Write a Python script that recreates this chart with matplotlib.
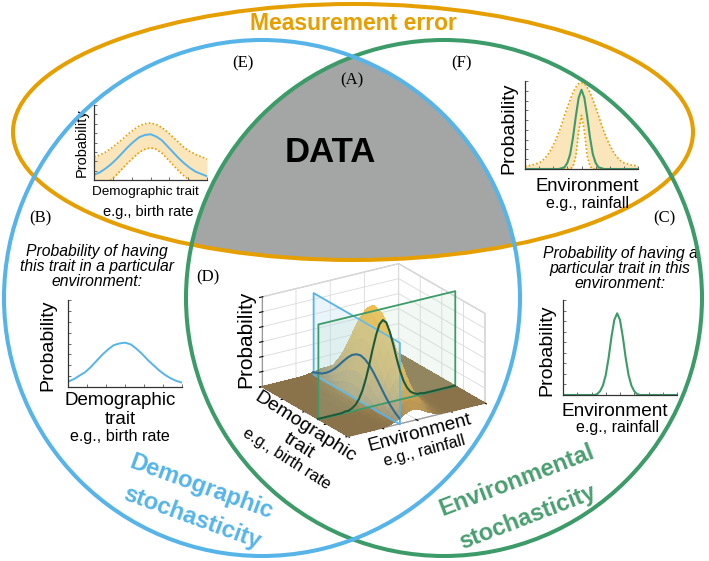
import numpy as np
import matplotlib
matplotlib.use('Agg')
import matplotlib.pyplot as plt
from matplotlib.patches import Circle, Ellipse, Polygon
from matplotlib.colors import LinearSegmentedColormap
from mpl_toolkits.mplot3d.art3d import Poly3DCollection
from mpl_toolkits.mplot3d import proj3d

# ---------------- data ----------------
trait_x = np.linspace(0, 1, 21)   # demographic-trait axis positions
env_x = np.linspace(0, 1, 41)     # environment axis positions

# (E) demographic trait with measurement error
e_mean = [0.07, 0.10, 0.15, 0.21, 0.28, 0.36, 0.44, 0.51, 0.57, 0.60, 0.61,
          0.58, 0.53, 0.45, 0.37, 0.29, 0.22, 0.16, 0.11, 0.08, 0.05]
e_upper = [0.31, 0.33, 0.37, 0.42, 0.48, 0.54, 0.61, 0.67, 0.72, 0.75, 0.76,
           0.74, 0.70, 0.64, 0.57, 0.50, 0.43, 0.38, 0.34, 0.31, 0.28]
e_lower = [-0.14, -0.11, -0.06, 0.00, 0.07, 0.15, 0.23, 0.30, 0.37, 0.41, 0.43,
           0.41, 0.36, 0.28, 0.20, 0.12, 0.05, -0.01, -0.06, -0.10, -0.13]

# (F) environment with measurement error
f_mean = [0]*12 + [0.00, 0.01, 0.02, 0.07, 0.17, 0.36, 0.60, 0.81, 0.90,
                   0.81, 0.60, 0.36, 0.17, 0.07, 0.02, 0.01, 0.00] + [0]*12
f_upper = [0.03, 0.04, 0.04, 0.05, 0.06, 0.07, 0.09, 0.12, 0.16, 0.21, 0.27,
           0.34, 0.42, 0.51, 0.61, 0.70, 0.79, 0.87, 0.93, 0.97, 0.98,
           0.97, 0.93, 0.87, 0.79, 0.70, 0.61, 0.51, 0.42, 0.34, 0.27,
           0.21, 0.16, 0.12, 0.09, 0.07, 0.06, 0.05, 0.04, 0.04, 0.03]
f_lower = [0]*17 + [0.03, 0.15, 0.43, 0.61, 0.43, 0.15, 0.03] + [0]*17

# (B) demographic stochasticity
b_curve = [0.06, 0.09, 0.13, 0.17, 0.23, 0.30, 0.37, 0.43, 0.48, 0.50, 0.51,
           0.49, 0.44, 0.38, 0.31, 0.25, 0.19, 0.14, 0.10, 0.07, 0.05]

# (C) environmental stochasticity
c_curve = [0]*12 + [0.01, 0.04, 0.10, 0.21, 0.39, 0.61, 0.79, 0.86,
                    0.79, 0.61, 0.39, 0.21, 0.10, 0.04, 0.01] + [0]*14

# (D) joint surface profiles
demo_profile = [0.04, 0.08, 0.12, 0.19, 0.28, 0.39, 0.52, 0.66, 0.79, 0.90, 0.97,
                1.00, 0.97, 0.90, 0.79, 0.66, 0.52, 0.39, 0.28, 0.19, 0.12]
env_profile = [0]*8 + [0.01, 0.01, 0.03, 0.06, 0.12, 0.21, 0.34, 0.50, 0.68, 0.84,
                       0.96, 1.00, 0.96, 0.84, 0.68, 0.50, 0.34, 0.21, 0.12, 0.06,
                       0.03, 0.01, 0.01] + [0]*10
surface_peak = 1.03
blue_slice = 15    # environment index of the blue plane
green_slice = 13   # demographic index of the green plane

# ---------------- style ----------------
W, H = 709, 561
ORANGE = '#E69F00'
BLUE = '#56B4E9'
GREEN = '#3C9B69'
GREEN_T = '#4A9E70'
FILL = '#FBE5BB'
plt.rcParams['font.family'] = ['Liberation Sans', 'DejaVu Sans']
plt.rcParams['grid.color'] = '#dadada'
plt.rcParams['grid.linewidth'] = 0.6

fig = plt.figure(figsize=(W/100, H/100), dpi=100)
ax = fig.add_axes([0, 0, 1, 1])
ax.set_xlim(0, W)
ax.set_ylim(H, 0)
ax.axis('off')

# gray DATA region = ellipse ∩ blue circle ∩ green circle
cb, cg, r = (262, 298), (444, 298), 258
a = np.arccos((353 - cb[0]) / r)
phi_b = np.linspace(-a, a, 200)
phi_g = np.linspace(np.pi - a, np.pi + a, 200)
lens = np.vstack([np.column_stack([cb[0] + r*np.cos(phi_b), cb[1] + r*np.sin(phi_b)]),
                  np.column_stack([cg[0] + r*np.cos(phi_g), cg[1] + r*np.sin(phi_g)])])
lens_patch = Polygon(lens, closed=True, transform=ax.transData)
gray = Ellipse((353, 132), 680, 256, facecolor='#A3A6A5', edgecolor='none', zorder=1)
ax.add_patch(gray)
gray.set_clip_path(lens_patch)

lw_c = 2.9
ax.add_patch(Ellipse((353, 132), 680, 256, facecolor='none', edgecolor=ORANGE, lw=lw_c, zorder=3))
ax.add_patch(Circle(cg, r, facecolor='none', edgecolor=GREEN, lw=lw_c, zorder=4))
ax.add_patch(Circle(cb, r, facecolor='none', edgecolor=BLUE, lw=lw_c, zorder=5))

# ---- main texts ----
ax.text(353, 23, 'Measurement error', color=ORANGE, fontsize=16.5, fontweight='bold',
        ha='center', va='center')
ax.text(330, 152, 'DATA', color='black', fontsize=25, fontweight='bold', ha='center', va='center')
serif = ['Liberation Serif', 'DejaVu Serif']
for lab, (x, y) in {'(A)': (352, 80), '(E)': (243, 63), '(F)': (462, 63), '(B)': (40, 218),
                    '(C)': (664, 218), '(D)': (208, 277)}.items():
    ax.text(x, y, lab, family=serif, fontsize=12, ha='center', va='center', zorder=6)

ax.text(97, 266, 'Probability of having\nthis trait in a particular\nenvironment:',
        style='italic', fontsize=11.3, ha='center', va='center', linespacing=1.0)
ax.text(620, 268, 'Probability of having a\nparticular trait in this\nenvironment:',
        style='italic', fontsize=11.3, ha='center', va='center', linespacing=1.0)

ax.text(201, 487, 'Demographic', color=BLUE, fontsize=17, fontweight='bold', rotation=-20,
        rotation_mode='anchor', ha='center', va='center')
ax.text(192, 518, 'stochasticity', color=BLUE, fontsize=17, fontweight='bold', rotation=-20,
        rotation_mode='anchor', ha='center', va='center')
ax.text(517, 481, 'Environmental', color=GREEN_T, fontsize=17, fontweight='bold', rotation=21,
        rotation_mode='anchor', ha='center', va='center')
ax.text(528, 517, 'stochasticity', color=GREEN_T, fontsize=17, fontweight='bold', rotation=21,
        rotation_mode='anchor', ha='center', va='center')

# inset labels
ax.text(82, 143, 'Probability', rotation=90, fontsize=10.5, ha='center', va='center')
ax.text(145, 192, 'Demographic trait', fontsize=9.7, ha='center', va='center')
ax.text(148, 212, 'e.g., birth rate', fontsize=10.5, ha='center', va='center')

ax.text(509, 128, 'Probability', rotation=90, fontsize=14, ha='center', va='center')
ax.text(587, 186, 'Environment', fontsize=13.3, ha='center', va='center')
ax.text(587, 203, 'e.g., rainfall', fontsize=11.5, ha='center', va='center')

ax.text(48, 345, 'Probability', rotation=90, fontsize=14, ha='center', va='center')
ax.text(120, 400, 'Demographic', fontsize=13.5, ha='center', va='center')
ax.text(120, 419, 'trait', fontsize=13.5, ha='center', va='center')
ax.text(120, 436, 'e.g., birth rate', fontsize=11.6, ha='center', va='center')

ax.text(547, 350, 'Probability', rotation=90, fontsize=14, ha='center', va='center')
ax.text(615, 411, 'Environment', fontsize=13.7, ha='center', va='center')
ax.text(617, 427, 'e.g., rainfall', fontsize=11.5, ha='center', va='center')

ax.text(246, 339, 'Probability', rotation=90, fontsize=15, ha='center', va='center')
ax.text(305, 427, 'Demographic', fontsize=14, rotation=-32.5, rotation_mode='anchor',
        ha='center', va='center')
ax.text(299, 446, 'trait', fontsize=14, rotation=-32.5, rotation_mode='anchor',
        ha='center', va='center')
ax.text(287, 459, 'e.g., birth rate', fontsize=11.8, rotation=-32.5, rotation_mode='anchor',
        ha='center', va='center')
ax.text(420, 433, 'Environment', fontsize=13.7, rotation=15, rotation_mode='anchor',
        ha='center', va='center')
ax.text(425, 451, 'e.g., rainfall', fontsize=11.6, rotation=15, rotation_mode='anchor',
        ha='center', va='center')


def inset(x0, y0, x1, y1, nx, ny):
    a_ = fig.add_axes([x0/W, 1 - y1/H, (x1 - x0)/W, (y1 - y0)/H])
    a_.set_facecolor('none')
    for s in ['top', 'right']:
        a_.spines[s].set_visible(False)
    for s in ['left', 'bottom']:
        a_.spines[s].set_color('#333333')
        a_.spines[s].set_linewidth(0.9)
    a_.set_xlim(0, 1)
    a_.set_ylim(0, 1)
    a_.set_xticks(np.linspace(0, 1, nx))
    a_.set_yticks(np.linspace(0, 1, ny))
    a_.tick_params(direction='in', length=2.5, width=0.6, colors='#555555',
                   labelbottom=False, labelleft=False)
    return a_

dot = (0, (1, 1.3))
# (E)
aE = inset(94, 105, 207, 180, 7, 9)
aE.fill_between(trait_x, e_lower, e_upper, color=FILL, lw=0)
aE.plot(trait_x, e_upper, color=ORANGE, lw=1.2, ls=dot)
aE.plot(trait_x, e_lower, color=ORANGE, lw=1.2, ls=dot)
aE.plot(trait_x, e_mean, color=BLUE, lw=1.4)
# (F)
aF = inset(525, 81, 638, 169, 9, 10)
aF.fill_between(env_x, f_lower, f_upper, color=FILL, lw=0)
aF.plot(env_x, f_upper, color=ORANGE, lw=1.2, ls=dot)
aF.plot(env_x, f_lower, color=ORANGE, lw=1.2, ls=dot)
aF.plot(env_x, f_mean, color=GREEN, lw=1.5)
# (B)
aB = inset(68, 300, 182, 387, 7, 9)
aB.plot(trait_x, b_curve, color=BLUE, lw=1.4)
# (C)
aC = inset(563, 300, 677, 395, 9, 10)
aC.plot(env_x, c_curve, color=GREEN, lw=1.5)

# ---------------- (D) 3D joint distribution ----------------
ax3 = fig.add_axes([0.3, 0.2, 0.4, 0.4 * W / H], projection='3d', computed_zorder=False)
ax3.set_facecolor((1, 1, 1, 0))
ax3.set_proj_type('ortho')
ax3.view_init(elev=22, azim=-33)
ax3.set_box_aspect((1, 1.03, 0.61))
ax3.set_xlim(0, 1)
ax3.set_ylim(0, 1)
ax3.set_zlim(0, 1)

Dg, Eg = np.meshgrid(trait_x, env_x, indexing='ij')
Z = surface_peak * np.outer(demo_profile, env_profile)
cmap = LinearSegmentedColormap.from_list(
    'surf', [(0, '#8a734a'), (0.12, '#b39357'), (0.4, '#dcaa48'), (1, '#f3c04e')])
fcol = cmap(Z / Z.max())
ax3.plot_surface(Dg, Eg, Z, facecolors=fcol, rstride=1, cstride=1, linewidth=0,
                 antialiased=False, shade=False, zorder=1)

eb = env_x[blue_slice]
dg = trait_x[green_slice]
blue_plane = [(0, eb, 0), (1, eb, 0), (1, eb, 0.91), (0, eb, 0.91)]
green_plane = [(dg, 0, 0), (dg, 1, 0), (dg, 1, 1.06), (dg, 0, 1.06)]
ax3.add_collection3d(Poly3DCollection([blue_plane], facecolors=[(0.70, 0.86, 0.95, 0.28)],
                                      edgecolors=BLUE, linewidths=1.3, zorder=2))
ax3.add_collection3d(Poly3DCollection([green_plane], facecolors=[(0.72, 0.88, 0.78, 0.18)],
                                      edgecolors=GREEN, linewidths=1.3, zorder=2))
ax3.plot(trait_x, np.full(len(trait_x), eb), Z[:, blue_slice], color='#2E6C92', lw=1.5, zorder=3)
ax3.plot(np.full(len(env_x), dg), env_x, Z[green_slice, :], color='#1E5A39', lw=1.5, zorder=3)

ax3.set_xticks([0, 0.25, 0.5, 0.75, 1])
ax3.set_yticks([0, 0.25, 0.5, 0.75, 1])
ax3.set_zticks(np.linspace(0, 1, 7))
ax3.set_xticklabels([])
ax3.set_yticklabels([])
ax3.set_zticklabels([])
ax3.zaxis.set_ticks_position('lower')
for axis in (ax3.xaxis, ax3.yaxis, ax3.zaxis):
    axis.set_pane_color((1, 1, 1, 1))
    axis.pane.set_edgecolor('#cccccc')
    axis.line.set_color('#999999')
    axis.line.set_linewidth(0.8)

# fit the 3D box onto the reference corner positions
fig.canvas.draw()
pts = [(0, 0, 0), (1, 0, 0), (1, 1, 0), (0, 1, 0), (0, 0, 1), (0, 1, 1)]
targets = np.array([(262, 387), (348, 437), (485, 403), (399, 353), (262, 295), (398, 265)], float)
M = ax3.get_proj()
pos = ax3.get_position()
cx, cy = (pos.x0 + pos.x1) / 2 * W, H - (pos.y0 + pos.y1) / 2 * H
S = pos.width * W
u = []
for p in pts:
    xs, ys, _ = proj3d.proj_transform(p[0], p[1], p[2], M)
    d = ax3.transData.transform((xs, ys))
    u.append(((d[0] - cx) / S, ((H - d[1]) - cy) / S))
u = np.array(u)
ub, tb = u.mean(0), targets.mean(0)
S2 = np.sum((u - ub) * (targets - tb)) / np.sum((u - ub) ** 2)
c2 = tb - S2 * ub
ax3.set_position([(c2[0] - S2 / 2) / W, (H - c2[1] - S2 / 2) / H, S2 / W, S2 / H])

fig.savefig('out.png', dpi=100)
